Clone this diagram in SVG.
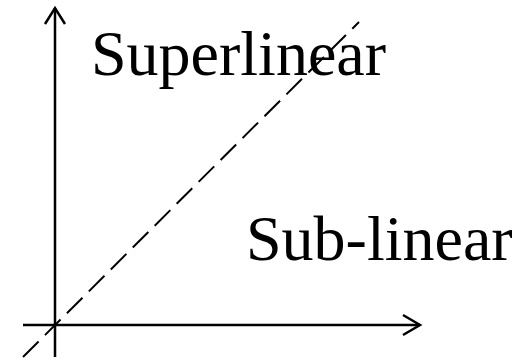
<svg xmlns="http://www.w3.org/2000/svg" width="519" height="360" viewBox="0 0 519 360">
<style>
.ax{stroke:#000;stroke-width:2.5;fill:none}
.dash{stroke:#000;stroke-width:2;fill:none;stroke-dasharray:22 9}
.lbl{font-family:"Liberation Serif","Times New Roman",serif;font-size:64px;fill:#000}
</style>
<rect width="519" height="360" fill="#fff"/>
<g id="connectors">
<line class="ax" x1="55" y1="357" x2="55" y2="8"/>
<polyline class="ax" points="45,24 55,8 65,24"/>
<line class="ax" x1="23" y1="325" x2="420" y2="325"/>
<polyline class="ax" points="403,315 420,325 403,335"/>
<line class="dash" x1="23" y1="357" x2="359" y2="22"/>
</g>
<g id="superlinear"><text class="lbl" x="91" y="75">Superlinear</text></g>
<g id="sublinear"><text class="lbl" x="246" y="260">Sub-linear</text></g>
</svg>
